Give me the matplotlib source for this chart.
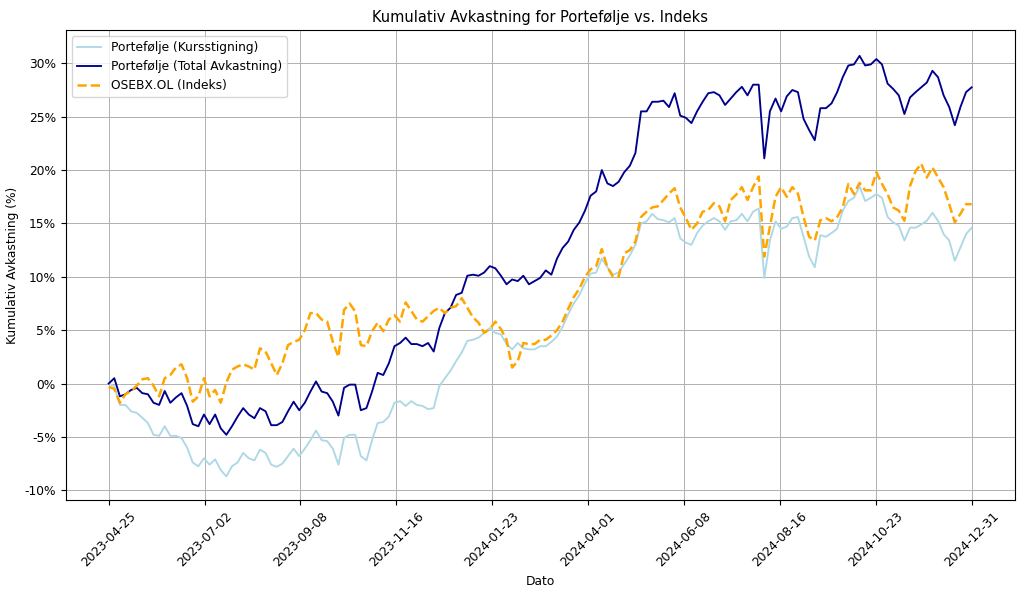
import matplotlib
matplotlib.use("Agg")
import matplotlib.pyplot as plt
import matplotlib.dates as mdates
from matplotlib.ticker import FuncFormatter
import pandas as pd

dates = pd.date_range("2023-04-25", "2024-12-31", freq="4D")

kurs = [
    0, -0.25, -2.0, -2.0, -2.6, -2.75, -3.2, -3.7, -4.8, -4.9, -4.0, -4.9, -4.9,
    -5.1, -6.0, -7.4, -7.75, -7.0, -7.6, -7.1, -8.1, -8.7, -7.75, -7.4, -6.5, -7.0,
    -7.2, -6.2, -6.5, -7.6, -7.8, -7.5, -6.8, -6.1, -6.8, -6.1, -5.3, -4.4, -5.3,
    -5.4, -6.1, -7.6, -5.1, -4.8, -4.8, -6.8, -7.2, -5.3, -3.7, -3.6, -3.1, -1.8,
    -1.65, -2.1, -1.65, -2.0, -2.1, -2.4, -2.3, -0.25, 0.5, 1.2, 2.1, 2.9, 4.0,
    4.1, 4.3, 4.75, 5.2, 4.75, 4.6, 3.7, 3.2, 3.8, 3.3, 3.2, 3.2, 3.5,
    3.5, 3.9, 4.4, 5.3, 6.5, 7.5, 8.3, 9.4, 10.3, 10.4, 11.7, 10.9, 10.2,
    10.4, 11.2, 12.0, 13.0, 15.0, 15.2, 15.9, 15.4, 15.3, 15.1, 15.5, 13.6, 13.2,
    13.0, 14.1, 14.8, 15.2, 15.5, 15.2, 14.4, 15.2, 15.3, 15.9, 15.2, 16.1, 16.4,
    9.9, 13.4, 15.2, 14.5, 14.7, 15.5, 15.6, 13.75, 11.9, 10.9, 13.9, 13.75, 14.1, 14.5,
    16.2, 17.1, 17.4, 18.5, 17.1, 17.4, 17.75, 17.4, 15.6, 15.1, 14.8, 13.4,
    14.6, 14.6, 14.9, 15.25, 16.0, 15.25, 14.0, 13.4, 11.5, 12.75, 14.0, 14.6,
]

total = [
    0, 0.5, -1.2, -1.0, -0.6, -0.4, -0.9, -1.0, -1.8, -2.0, -0.7, -1.8, -1.3,
    -0.9, -2.1, -3.8, -4.0, -2.9, -3.8, -2.9, -4.2, -4.8, -4.0, -3.1, -2.3, -2.9,
    -3.25, -2.3, -2.6, -3.9, -3.9, -3.6, -2.6, -1.7, -2.5, -1.8, -0.75, 0.2, -0.75,
    -0.9, -1.7, -3.0, -0.4, -0.1, -0.1, -2.5, -2.3, -0.75, 1.0, 0.8, 1.9, 3.5,
    3.8, 4.3, 3.7, 3.7, 3.5, 3.8, 3.0, 5.2, 6.6, 7.1, 8.3, 8.5, 10.1,
    10.2, 10.1, 10.4, 11.0, 10.8, 10.1, 9.3, 9.75, 9.6, 10.1, 9.3, 9.6, 9.9,
    10.6, 10.2, 11.7, 12.7, 13.3, 14.4, 15.1, 16.2, 17.6, 18.0, 20.0, 18.75, 18.5,
    18.9, 19.8, 20.4, 21.6, 25.5, 25.5, 26.4, 26.4, 26.5, 25.9, 27.2, 25.1, 24.9,
    24.4, 25.5, 26.4, 27.2, 27.3, 27.0, 26.1, 26.7, 27.3, 27.8, 27.0, 28.0, 28.0,
    21.1, 25.5, 26.7, 25.5, 26.9, 27.5, 27.3, 24.8, 23.75, 22.8, 25.8, 25.8, 26.25, 27.3,
    28.7, 29.8, 29.9, 30.7, 29.8, 29.9, 30.4, 29.9, 28.1, 27.6, 27.0, 25.25,
    26.8, 27.3, 27.75, 28.2, 29.3, 28.7, 27.0, 25.9, 24.2, 25.9, 27.3, 27.75,
]

osebx = [
    -0.3, -0.5, -1.8, -1.0, -0.7, -0.2, 0.4, 0.5, -0.2, -1.2, 0.5, 0.8, 1.5,
    1.8, 0.5, -1.7, -1.2, 0.5, -1.2, -0.6, -1.8, 0.1, 1.3, 1.6, 1.8, 1.6,
    1.3, 3.3, 3.0, 1.9, 0.8, 1.9, 3.6, 3.9, 4.1, 5.0, 6.6, 6.6, 6.0,
    5.8, 3.9, 2.5, 6.9, 7.5, 6.75, 3.6, 3.5, 4.9, 5.7, 4.9, 6.0, 6.4,
    5.8, 7.6, 6.8, 6.0, 5.8, 6.3, 6.8, 7.1, 6.6, 7.1, 7.25, 8.0, 7.1,
    6.2, 5.7, 4.75, 5.1, 5.8, 5.1, 4.1, 1.5, 2.1, 3.8, 3.7, 3.7, 4.1,
    4.1, 4.5, 5.0, 5.8, 7.0, 8.1, 8.9, 10.0, 10.7, 11.0, 12.6, 10.9, 10.0,
    10.0, 12.2, 12.5, 13.3, 15.6, 16.1, 16.5, 16.6, 17.2, 17.8, 18.3, 16.5, 15.5,
    14.4, 15.0, 16.1, 16.25, 16.9, 16.6, 15.2, 17.2, 17.7, 18.4, 17.2, 18.4, 19.4,
    11.9, 14.7, 17.5, 18.4, 17.5, 18.4, 17.8, 15.6, 13.75, 13.4, 15.3, 15.5, 15.2, 15.6,
    16.5, 18.7, 17.75, 18.8, 18.1, 18.1, 19.8, 18.7, 17.75, 16.5, 16.2, 15.25,
    18.5, 19.9, 20.6, 19.3, 20.25, 19.3, 18.4, 16.8, 15.1, 15.9, 16.8, 16.8,
]

plt.rcParams["font.size"] = 8.8
plt.rcParams["grid.linewidth"] = 0.7

fig, ax = plt.subplots(figsize=(10.24, 5.93), dpi=100)
fig.subplots_adjust(left=0.064, right=0.991, top=0.949, bottom=0.157)

ax.plot(dates, kurs, color="lightblue", linewidth=1.35, label="Portefølje (Kursstigning)")
ax.plot(dates, total, color="darkblue", linewidth=1.35, label="Portefølje (Total Avkastning)")
ax.plot(dates, osebx, color="orange", linestyle="--", linewidth=1.8, label="OSEBX.OL (Indeks)")

ax.set_title("Kumulativ Avkastning for Portefølje vs. Indeks", fontsize=10.5)
ax.set_xlabel("Dato")
ax.set_ylabel("Kumulativ Avkastning (%)")

ax.set_xticks(pd.date_range(dates[0], dates[-1], periods=10))
ax.xaxis.set_major_formatter(mdates.DateFormatter("%Y-%m-%d"))
plt.setp(ax.get_xticklabels(), rotation=45)
ax.yaxis.set_major_formatter(FuncFormatter(lambda v, _: f"{v:.0f}%"))
ax.set_ylim(-10.9, 33.1)

ax.grid(True)
ax.legend(loc="upper left")

fig.savefig("out.png", dpi=100)
